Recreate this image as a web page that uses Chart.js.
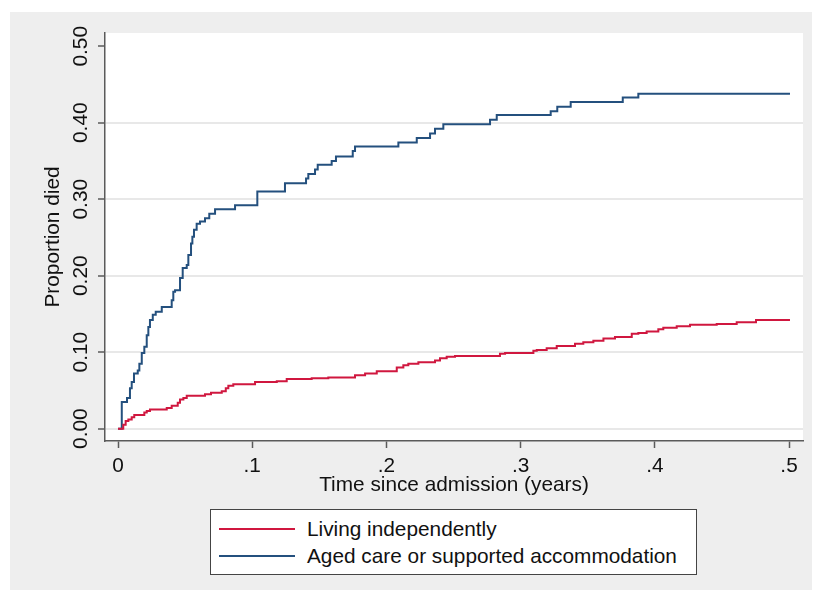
<!DOCTYPE html>
<html>
<head>
<meta charset="utf-8">
<title>Proportion died by accommodation</title>
<script src="https://cdn.jsdelivr.net/npm/chart.js@4/dist/chart.umd.min.js"></script>
<style>
  body { margin: 0; background: #fff; font-family: "Liberation Sans", Arial, sans-serif; }
  #graph { position: absolute; left: 10px; top: 12px; width: 802px; height: 578px; background: #eeeeee; }
  #wrap { position: absolute; left: 0; top: 0; width: 814px; height: 595px; }
  #legend {
    position: absolute; left: 210px; top: 509px; width: 485px; height: 64px;
    background: #fff; border: 1px solid #444; box-sizing: content-box;
  }
  .row { position: absolute; left: 8px; height: 24px; display: flex; align-items: center; }
  .sample { width: 76px; height: 2px; margin-right: 12px; }
  .label { font-size: 20.8px; color: #111; white-space: nowrap; }
</style>
</head>
<body>
<div id="graph"></div>
<div id="wrap"><canvas id="kmChart" width="814" height="595"></canvas></div>
<div id="legend"></div>

<script>
// Series labels
const seriesNames = ["Living independently", "Aged care or supported accommodation"];

// Living independently: event times (years) and cumulative proportion died
const indepTime = [0, 0.0039, 0.0057, 0.0077, 0.0102, 0.0121, 0.0196, 0.0214, 0.0238, 0.0363, 0.0400,
  0.0445, 0.0462, 0.0487, 0.0512, 0.0648, 0.0693, 0.0773, 0.0803, 0.0822, 0.0859, 0.1021, 0.1183,
  0.1257, 0.1443, 0.1567, 0.1766, 0.1841, 0.1928, 0.2077, 0.2126, 0.2163, 0.2238, 0.2362, 0.2399,
  0.2449, 0.2511, 0.2846, 0.2884, 0.3095, 0.3120, 0.3194, 0.3269, 0.3405, 0.3467, 0.3542, 0.3617,
  0.3703, 0.3828, 0.3877, 0.3939, 0.4026, 0.4063, 0.4163, 0.4262, 0.4461, 0.4610, 0.4754, 0.5007];
const indepProp = [0, 0.005, 0.010, 0.012, 0.015, 0.018, 0.021, 0.023, 0.025, 0.027, 0.030,
  0.034, 0.038, 0.040, 0.043, 0.045, 0.047, 0.049, 0.053, 0.056, 0.058, 0.061, 0.062,
  0.065, 0.066, 0.067, 0.070, 0.072, 0.075, 0.080, 0.083, 0.085, 0.087, 0.089, 0.092,
  0.094, 0.095, 0.098, 0.099, 0.102, 0.103, 0.105, 0.108, 0.111, 0.113, 0.115, 0.118,
  0.120, 0.124, 0.125, 0.127, 0.130, 0.132, 0.134, 0.136, 0.137, 0.139, 0.142, 0.142];

// Aged care or supported accommodation
const agedTime = [0, 0.0028, 0.0067, 0.0089, 0.0102, 0.0119, 0.0147, 0.0159, 0.0177, 0.0196, 0.0214,
  0.0226, 0.0238, 0.0259, 0.0281, 0.0326, 0.0400, 0.0412, 0.0425, 0.0462, 0.0482, 0.0512, 0.0524,
  0.0544, 0.0554, 0.0566, 0.0586, 0.0611, 0.0648, 0.0680, 0.0723, 0.0872, 0.1038, 0.1244, 0.1401,
  0.1418, 0.1468, 0.1488, 0.1592, 0.1624, 0.1749, 0.1766, 0.2089, 0.2226, 0.2325, 0.2362, 0.2424,
  0.2772, 0.2822, 0.3224, 0.3273, 0.3373, 0.3761, 0.3877, 0.5007];
const agedProp = [0, 0.035, 0.040, 0.053, 0.061, 0.072, 0.076, 0.085, 0.099, 0.107, 0.122,
  0.133, 0.142, 0.149, 0.153, 0.159, 0.168, 0.179, 0.181, 0.197, 0.210, 0.214, 0.227,
  0.242, 0.251, 0.260, 0.268, 0.271, 0.275, 0.281, 0.287, 0.292, 0.310, 0.321, 0.327,
  0.333, 0.339, 0.345, 0.350, 0.356, 0.363, 0.369, 0.374, 0.380, 0.386, 0.392, 0.398,
  0.404, 0.410, 0.415, 0.421, 0.427, 0.433, 0.438, 0.438];

// Axis ticks
const xTickValues = [0, 0.1, 0.2, 0.3, 0.4, 0.5];
const xTickLabels = ["0", ".1", ".2", ".3", ".4", ".5"];
const yTickValues = [0, 0.1, 0.2, 0.3, 0.4, 0.5];
const yTickLabels = ["0.00", "0.10", "0.20", "0.30", "0.40", "0.50"];

const FONT = "'Liberation Sans', Arial, sans-serif";
const FSIZE = 20.8;
const RED = "#d0173f";
const BLUE = "#24507e";

function toPoints(xs, ys) {
  return xs.map((x, i) => ({ x: x, y: ys[i] }));
}

// white plot region inside the grey graph region
const plotBackground = {
  id: "plotBackground",
  beforeDraw(chart) {
    const { ctx, chartArea: a } = chart;
    ctx.save();
    ctx.fillStyle = "#ffffff";
    ctx.fillRect(a.left, a.top, a.right - a.left, a.bottom - a.top);
    ctx.restore();
  }
};

const chart = new Chart(document.getElementById("kmChart").getContext("2d"), {
  type: "line",
  data: {
    datasets: [
      {
        label: seriesNames[0],
        data: toPoints(indepTime, indepProp),
        borderColor: RED,
        borderWidth: 2,
        pointRadius: 0,
        stepped: true,
        fill: false
      },
      {
        label: seriesNames[1],
        data: toPoints(agedTime, agedProp),
        borderColor: BLUE,
        borderWidth: 2,
        pointRadius: 0,
        stepped: true,
        fill: false
      }
    ]
  },
  options: {
    responsive: false,
    animation: false,
    layout: { padding: { left: 41, top: 33, right: 11, bottom: 97 } },
    plugins: {
      legend: { display: false },
      tooltip: { enabled: false }
    },
    scales: {
      x: {
        type: "linear",
        min: -0.0097,
        max: 0.5104,
        afterBuildTicks: s => { s.ticks = xTickValues.map(v => ({ value: v })); },
        afterFit: s => { s.height = 57; },
        border: { color: "#5a5a5a", width: 1.5 },
        grid: { drawOnChartArea: false, tickLength: 7, tickColor: "#5a5a5a", tickWidth: 1.5 },
        ticks: {
          autoSkip: false, maxRotation: 0, padding: 6,
          color: "#111", font: { family: FONT, size: FSIZE },
          callback: v => xTickLabels[xTickValues.indexOf(v)]
        },
        title: {
          display: true, text: "Time since admission (years)",
          color: "#111", font: { family: FONT, size: FSIZE }, padding: 0
        }
      },
      y: {
        type: "linear",
        min: -0.0161,
        max: 0.5173,
        afterBuildTicks: s => { s.ticks = yTickValues.map(v => ({ value: v })); },
        afterFit: s => { s.width = 64; },
        border: { color: "#5a5a5a", width: 1.5 },
        grid: {
          color: c => (c.tick && c.tick.value === 0.5) ? "rgba(0,0,0,0)" : "#e8e8e8",
          lineWidth: 2, tickLength: 7, tickColor: "#5a5a5a", tickWidth: 1.5
        },
        ticks: {
          autoSkip: false, minRotation: 90, maxRotation: 90, crossAlign: "center", padding: -3,
          color: "#111", font: { family: FONT, size: FSIZE },
          callback: v => yTickLabels[yTickValues.indexOf(v)]
        },
        title: {
          display: true, text: "Proportion died",
          color: "#111", font: { family: FONT, size: FSIZE }, padding: 0
        }
      }
    }
  },
  plugins: [plotBackground]
});

// Legend as html, built from the chart's datasets
function buildLegend(chart) {
  const box = document.getElementById("legend");
  box.innerHTML = "";
  chart.data.datasets.forEach((ds, i) => {
    const row = document.createElement("div");
    row.className = "row";
    row.style.top = (7 + i * 27) + "px";
    row.innerHTML = `<span class="sample" style="background:${ds.borderColor}"></span>` +
      `<span class="label">${ds.label}</span>`;
    box.appendChild(row);
  });
}

buildLegend(chart);
</script>
</body>
</html>
